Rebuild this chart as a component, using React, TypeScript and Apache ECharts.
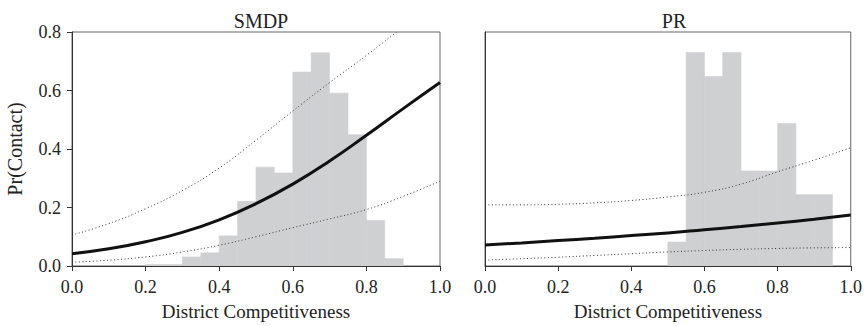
import React, { useEffect, useRef } from "react";
import * as echarts from "echarts";

const xTicks = [0, 0.2, 0.4, 0.6, 0.8, 1.0];
const titles = ["SMDP", "PR"];

// histogram bins: [start, end, height]
const smdpBins = [
  [0.2, 0.25, 0.005], [0.25, 0.3, 0.005], [0.3, 0.35, 0.031], [0.35, 0.4, 0.045],
  [0.4, 0.45, 0.103], [0.45, 0.5, 0.221], [0.5, 0.55, 0.338], [0.55, 0.6, 0.318],
  [0.6, 0.65, 0.663], [0.65, 0.7, 0.729], [0.7, 0.75, 0.591], [0.75, 0.8, 0.449],
  [0.8, 0.85, 0.156], [0.85, 0.9, 0.025],
];
const prBins = [
  [0.5, 0.55, 0.082], [0.55, 0.6, 0.73], [0.6, 0.65, 0.648], [0.65, 0.7, 0.73],
  [0.7, 0.75, 0.325], [0.75, 0.8, 0.325], [0.8, 0.85, 0.487], [0.85, 0.9, 0.244],
  [0.9, 0.95, 0.244],
];

const xs = [0, 0.1, 0.2, 0.3, 0.4, 0.5, 0.6, 0.7, 0.8, 0.9, 1.0];
const smdpFit = [0.042, 0.059, 0.083, 0.115, 0.158, 0.213, 0.28, 0.359, 0.447, 0.538, 0.627];
const smdpUpperX = [0, 0.1, 0.2, 0.3, 0.4, 0.5, 0.6, 0.7, 0.8, 0.882];
const smdpUpper = [0.106, 0.145, 0.196, 0.258, 0.335, 0.43, 0.53, 0.627, 0.72, 0.8];
const smdpLower = [0.013, 0.02, 0.031, 0.048, 0.071, 0.1, 0.131, 0.161, 0.193, 0.238, 0.29];
const prFit = [0.072, 0.079, 0.087, 0.095, 0.104, 0.113, 0.124, 0.135, 0.147, 0.16, 0.174];
const prUpper = [0.209, 0.209, 0.211, 0.216, 0.224, 0.236, 0.252, 0.28, 0.322, 0.362, 0.404];
const prLower = [0.02, 0.025, 0.03, 0.036, 0.042, 0.048, 0.053, 0.057, 0.06, 0.062, 0.063];

const FONT = "Liberation Serif";
const TEXT = "#222";
const BAR = "#cfd0d2";

function pairs(x: number[], y: number[]) {
  return x.map((v, i) => [v, y[i]]);
}

export default function App() {
  const ref = useRef<HTMLDivElement>(null);
  useEffect(() => {
    if (!ref.current) return;
    const chart = echarts.init(ref.current, null, { renderer: "svg" });
    const grids = [
      { left: 72, top: 32, width: 368, height: 237 },
      { left: 485, top: 32, width: 368, height: 237 },
    ];
    const histSeries = (bins: number[][], idx: number) => ({
      type: "custom",
      xAxisIndex: idx,
      yAxisIndex: idx,
      z: 1,
      data: bins,
      clip: true,
      renderItem: (params: any, api: any) => {
        const p0 = api.coord([api.value(0), api.value(2)]);
        const p1 = api.coord([api.value(1), 0]);
        return {
          type: "rect",
          shape: { x: p0[0], y: p0[1], width: p1[0] - p0[0], height: p1[1] - p0[1] },
          style: { fill: BAR, stroke: BAR, lineWidth: 0.6 },
        };
      },
    });
    const lineSeries = (data: number[][], idx: number, dotted: boolean) => ({
      type: "line",
      xAxisIndex: idx,
      yAxisIndex: idx,
      data,
      smooth: true,
      showSymbol: false,
      symbol: "none",
      clip: true,
      z: 3,
      lineStyle: dotted
        ? { color: "#333", width: 1, type: [1, 2.5] }
        : { color: "#111", width: 3 },
    });
    const xAxis = (idx: number) => ({
      type: "value",
      gridIndex: idx,
      min: 0,
      max: 1,
      interval: 0.2,
      name: "District Competitiveness",
      nameLocation: "middle",
      nameGap: 36,
      nameTextStyle: { fontFamily: FONT, fontSize: 19, color: TEXT },
      axisLine: { show: true, onZero: false, lineStyle: { color: "#333", width: 1 } },
      axisTick: { show: true, inside: false, length: 5, lineStyle: { color: "#333" } },
      axisLabel: {
        fontFamily: FONT, fontSize: 18, color: TEXT, margin: 12,
        formatter: (v: number) => v.toFixed(1),
      },
      splitLine: { show: false },
    });
    const yAxis = (idx: number) => ({
      type: "value",
      gridIndex: idx,
      min: 0,
      max: 0.8,
      interval: 0.2,
      name: idx === 0 ? "Pr(Contact)" : "",
      nameLocation: "middle",
      nameGap: 47,
      nameTextStyle: { fontFamily: FONT, fontSize: 20, color: TEXT },
      axisLine: { show: true, lineStyle: { color: "#333", width: 1 } },
      axisTick: { show: idx === 0, inside: false, length: 5, lineStyle: { color: "#333" } },
      axisLabel: {
        show: idx === 0,
        fontFamily: FONT, fontSize: 18, color: TEXT, margin: 11,
        formatter: (v: number) => v.toFixed(1),
      },
      splitLine: { show: false },
    });
    chart.setOption({
      animation: false,
      backgroundColor: "#fff",
      title: titles.map((t, i) => ({
        text: t,
        left: grids[i].left + grids[i].width / 2,
        top: 6,
        textAlign: "center",
        textStyle: { fontFamily: FONT, fontSize: 20, fontWeight: "normal", color: TEXT },
      })),
      grid: grids.map((g) => ({ ...g, show: true, borderColor: "#666", borderWidth: 1, backgroundColor: "transparent" })),
      xAxis: [xAxis(0), xAxis(1)],
      yAxis: [yAxis(0), yAxis(1)],
      series: [
        histSeries(smdpBins, 0),
        lineSeries(pairs(smdpUpperX, smdpUpper), 0, true),
        lineSeries(pairs(xs, smdpLower), 0, true),
        lineSeries(pairs(xs, smdpFit), 0, false),
        histSeries(prBins, 1),
        lineSeries(pairs(xs, prUpper), 1, true),
        lineSeries(pairs(xs, prLower), 1, true),
        lineSeries(pairs(xs, prFit), 1, false),
      ],
    });
    return () => chart.dispose();
  }, []);
  return <div ref={ref} style={{ width: 865, height: 326, position: "absolute", left: 0, top: 0 }} />;
}
